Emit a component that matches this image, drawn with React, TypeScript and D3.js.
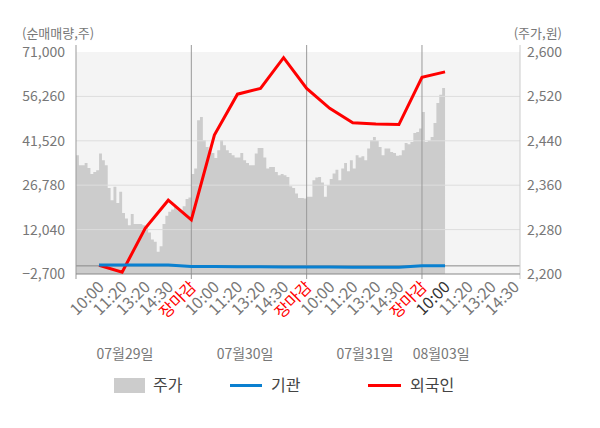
import * as d3 from 'd3'

const width = 600
const height = 428
const margin = { top: 52, right: 80, bottom: 154, left: 76 }
const innerRight = width - margin.right
const innerBottom = height - margin.bottom

const font = '"Noto Sans CJK KR", "Noto Sans", sans-serif'

// x positions are in "slots": every day has 5 label slots (10:00 … 장마감)
const timeLabels = ['10:00', '11:20', '13:20', '14:30', '장마감']
const dayLabels = ['07월29일', '07월30일', '07월31일', '08월03일']
const dayLabelSlots = [2.12, 7.33, 12.53, 15.83]
const slotsPerDay = [5, 5, 5, 4]

const volumeTicks = [-2700, 12040, 26780, 41520, 56260, 71000]
const priceTicks = [2200, 2280, 2360, 2440, 2520, 2600]

// 주가 (price), 8 samples per slot
const priceDay1 = [
  2414, 2396, 2396, 2400, 2391, 2380, 2384, 2387, 2417, 2405,
  2396, 2355, 2333, 2357, 2328, 2348, 2310, 2300, 2288, 2308,
  2290, 2290, 2290, 2288, 2284, 2275, 2262, 2258, 2240, 2250,
  2290, 2305, 2312, 2316, 2321, 2315, 2312, 2322, 2335, 2338,
]
const priceDay2 = [
  2380, 2390, 2477, 2483, 2441, 2429, 2423, 2418, 2409, 2423,
  2441, 2432, 2423, 2418, 2414, 2410, 2410, 2418, 2405, 2400,
  2396, 2396, 2417, 2427, 2427, 2410, 2390, 2393, 2393, 2384,
  2378, 2380, 2378, 2375, 2358, 2355, 2345, 2337, 2337, 2336,
]
const priceDay3 = [
  2339, 2339, 2369, 2374, 2375, 2365, 2339, 2360, 2371, 2381,
  2388, 2369, 2390, 2400, 2385, 2405, 2390, 2414, 2410, 2412,
  2405, 2426, 2441, 2447, 2440, 2429, 2414, 2426, 2426, 2420,
  2418, 2413, 2414, 2423, 2436, 2434, 2438, 2454, 2456, 2462,
]
const priceDay4 = [2492, 2438, 2440, 2447, 2472, 2508, 2523, 2535]

// 순매매량 at slots 1..16
const foreign = [
  200, -2100, 12500, 21800, 15300, 43400, 57000, 58900,
  69100, 58900, 52300, 47500, 47100, 46900, 62600, 64400,
]
const institution = [
  300, 300, 300, 300, -250, -250, -300, -300,
  -350, -400, -400, -450, -450, -450, 0, 0,
]

const x = d3.scaleLinear().domain([0, 19.25]).range([margin.left, innerRight])
const yVol = d3.scaleLinear().domain([-2700, 71000]).range([innerBottom, margin.top])
const yPrice = d3.scaleLinear().domain([2200, 2600]).range([innerBottom, margin.top])

const pricePoints: [number, number][] = []
;[priceDay1, priceDay2, priceDay3, priceDay4].forEach((day, d) => {
  day.forEach((v, i) => pricePoints.push([d * 5 + i / 8, v]))
})
pricePoints.push([16, priceDay4[priceDay4.length - 1]])

const priceArea = d3
  .area<[number, number]>()
  .curve(d3.curveStepAfter)
  .x((d) => x(d[0]))
  .y0(innerBottom)
  .y1((d) => yPrice(d[1]))

const flowLine = d3
  .line<number>()
  .x((_, i) => x(i + 1))
  .y((d) => yVol(d))

const xTicks = slotsPerDay.flatMap((n, d) =>
  timeLabels.slice(0, n).map((label, i) => ({
    slot: d * 5 + i + 1,
    label,
    color: i === 4 ? '#ff0000' : d === 3 && i === 0 ? '#333' : '#777',
  })),
)

const dayLines = [5, 10, 15]

const App = () => {
  return (
    <svg
      width={width}
      height={height}
      style={{ position: 'absolute', left: 0, top: 0, background: '#fff' }}
      fontFamily={font}
    >
      <rect
        x={margin.left}
        y={margin.top}
        width={innerRight - margin.left}
        height={innerBottom - margin.top}
        fill="#f4f4f4"
      />
      <path d={priceArea(pricePoints) ?? ''} fill="#cccccc" />

      {volumeTicks.slice(1, -1).map((t) => (
        <line key={t} x1={margin.left} x2={innerRight} y1={yVol(t)} y2={yVol(t)} stroke="#dddddd" />
      ))}
      <line x1={margin.left} x2={innerRight} y1={yVol(0)} y2={yVol(0)} stroke="#888" />

      {dayLines.map((s) => (
        <line key={s} x1={x(s)} x2={x(s)} y1={45} y2={innerBottom + 5} stroke="#999" />
      ))}
      <line x1={margin.left} x2={margin.left} y1={45} y2={innerBottom + 5} stroke="#999" />
      <line x1={innerRight} x2={innerRight} y1={45} y2={innerBottom + 5} stroke="#ccc" />
      <line x1={margin.left} x2={innerRight} y1={innerBottom} y2={innerBottom} stroke="#888" />

      <path d={flowLine(foreign) ?? ''} fill="none" stroke="#ff0000" strokeWidth={3} />
      <path d={flowLine(institution) ?? ''} fill="none" stroke="#0a80d0" strokeWidth={3} />

      {volumeTicks.map((t) => (
        <text key={t} x={65} y={yVol(t)} dy="0.35em" textAnchor="end" fontSize={14} fill="#777">
          {d3.format(',')(t)}
        </text>
      ))}
      {priceTicks.map((t) => (
        <text key={t} x={527} y={yPrice(t)} dy="0.35em" fontSize={14} fill="#777">
          {d3.format(',')(t)}
        </text>
      ))}
      <text x={22} y={33} dy="0.35em" fontSize={13} fill="#777">
        (순매매량,주)
      </text>
      <text x={562} y={33} dy="0.35em" fontSize={13} fill="#777" textAnchor="end">
        (주가,원)
      </text>

      {xTicks.map((t) => (
        <text
          key={t.slot}
          transform={`translate(${x(t.slot) + 2}, 284) rotate(-45)`}
          dy="0.35em"
          textAnchor="end"
          fontSize={16}
          fill={t.color}
        >
          {t.label}
        </text>
      ))}
      {dayLabels.map((label, i) => (
        <text key={label} x={x(dayLabelSlots[i])} y={354} dy="0.35em" textAnchor="middle" fontSize={14} fill="#777">
          {label}
        </text>
      ))}

      <g fontSize={16} fill="#444">
        <rect x={114} y={378} width={31} height={15} fill="#cccccc" />
        <text x={153} y={385.5} dy="0.35em">
          주가
        </text>
        <line x1={230} x2={262} y1={385.5} y2={385.5} stroke="#0a80d0" strokeWidth={3} />
        <text x={271} y={385.5} dy="0.35em">
          기관
        </text>
        <line x1={368} x2={401} y1={385.5} y2={385.5} stroke="#ff0000" strokeWidth={3} />
        <text x={410} y={385.5} dy="0.35em">
          외국인
        </text>
      </g>
    </svg>
  )
}

export default App
